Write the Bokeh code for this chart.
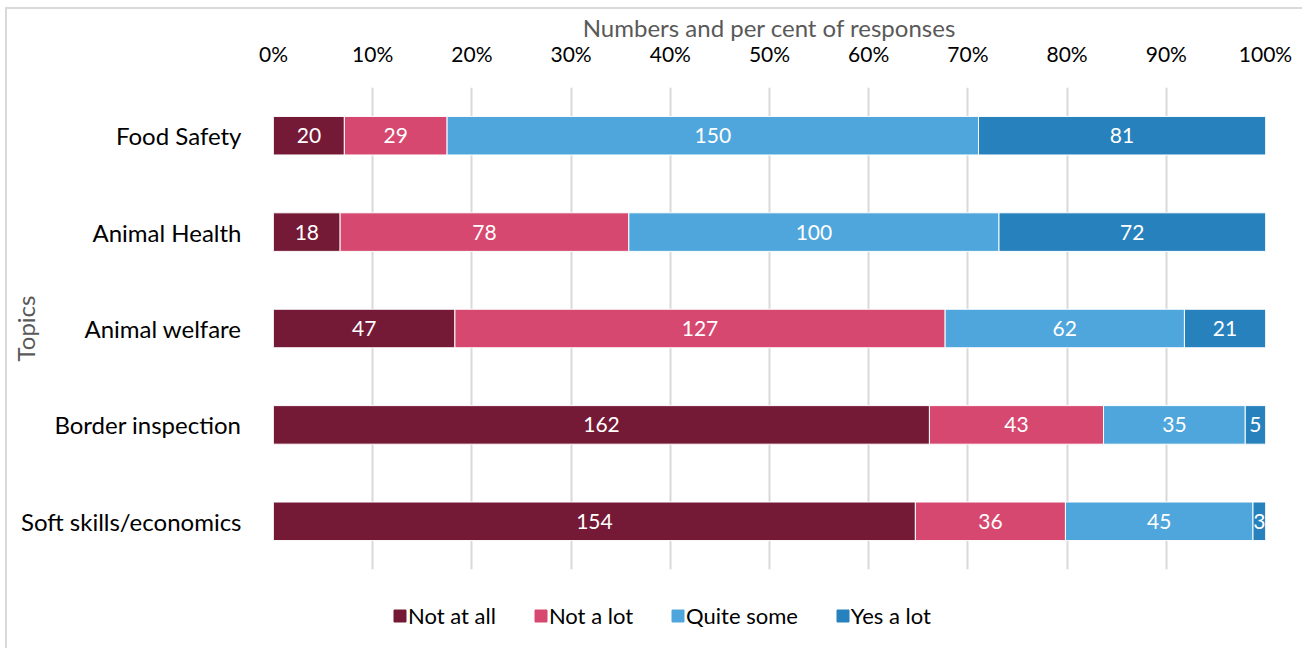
from bokeh.plotting import figure
from bokeh.layouts import column
from bokeh.models import ColumnDataSource, FactorRange, Range1d, FixedTicker, NumeralTickFormatter, Legend
from bokeh.core.properties import value
from bokeh.embed import file_html
from bokeh.resources import INLINE

topics = ["Food Safety", "Animal Health", "Animal welfare", "Border inspection", "Soft skills/economics"]
not_at_all = [20, 18, 47, 162, 154]
not_a_lot = [29, 78, 127, 43, 36]
quite_some = [150, 100, 62, 35, 45]
yes_a_lot = [81, 72, 21, 5, 3]
series_names = ["Not at all", "Not a lot", "Quite some", "Yes a lot"]
colors = ["#751A36", "#D6486F", "#4FA6DC", "#2781BD"]
tick_values = [0.0, 0.1, 0.2, 0.3, 0.4, 0.5, 0.6, 0.7, 0.8, 0.9, 1.0]
x_title = "Numbers and per cent of responses"
y_title = "Topics"

FONT = "Lato"
counts = [not_at_all, not_a_lot, quite_some, yes_a_lot]
totals = [sum(c[i] for c in counts) for i in range(len(topics))]
keys = ["s0", "s1", "s2", "s3"]
data = {"topic": topics}
for k, c in zip(keys, counts):
    data[k] = [v / t for v, t in zip(c, totals)]
source = ColumnDataSource(data)

p = figure(width=1295, height=580,
           y_range=FactorRange(factors=topics[::-1]), x_range=Range1d(0, 1),
           x_axis_location="above", output_backend="svg", toolbar_location=None,
           min_border_left=266, min_border_top=78, min_border_right=37, min_border_bottom=20)

p.hbar_stack(keys, y="topic", height=0.4, color=colors, line_color="white", line_width=1,
             source=source)

lx, ly, lt = [], [], []
for i, topic in enumerate(topics):
    cum = 0.0
    for c in counts:
        frac = c[i] / totals[i]
        lx.append(cum + frac / 2)
        ly.append(topic)
        lt.append(str(c[i]))
        cum += frac
p.text(x=lx, y=ly, text=lt, text_color="white", text_font=value(FONT), text_font_size="21px",
       text_align="center", text_baseline="middle")

xa = p.xaxis[0]
xa.ticker = FixedTicker(ticks=tick_values)
xa.formatter = NumeralTickFormatter(format="0%")
xa.axis_line_color = None
xa.major_tick_line_color = None
xa.minor_tick_line_color = None
xa.major_label_text_font = FONT
xa.major_label_text_font_size = "21px"
xa.major_label_text_color = "#000000"
xa.major_label_standoff = 16
xa.axis_label = x_title
xa.axis_label_text_font = FONT
xa.axis_label_text_font_size = "24px"
xa.axis_label_text_font_style = "normal"
xa.axis_label_text_color = "#595959"
xa.axis_label_standoff = -4

ya = p.yaxis[0]
ya.axis_line_color = None
ya.major_tick_line_color = None
ya.minor_tick_line_color = None
ya.major_label_text_font = FONT
ya.major_label_text_font_size = "24px"
ya.major_label_text_color = "#000000"
ya.major_label_standoff = 26
ya.axis_label = y_title
ya.axis_label_text_font = FONT
ya.axis_label_text_font_size = "24px"
ya.axis_label_text_font_style = "normal"
ya.axis_label_text_color = "#595959"
ya.axis_label_standoff = -22

p.xgrid.grid_line_color = "#d9d9d9"
p.xgrid.grid_line_width = 2
p.ygrid.grid_line_color = None
p.outline_line_color = None

# legend in a separate strip below (swatch renderers sit outside the strip's visible range)
pl = figure(width=1295, height=59, x_axis_type=None, y_axis_type=None,
            x_range=Range1d(0, 1), y_range=Range1d(0, 1),
            output_backend="svg", toolbar_location=None, min_border=0)
pl.outline_line_color = None
pl.xgrid.grid_line_color = None
pl.ygrid.grid_line_color = None
swatch_src = ColumnDataSource(dict(x=[-5], y=[-5]))
leg_rs = [pl.rect(x="x", y="y", width=0.1, height=0.1, color=c, source=swatch_src) for c in colors]

lg = Legend(items=[(n, [r]) for n, r in zip(series_names, leg_rs)])
lg.orientation = "horizontal"
lg.location = (119, 19)
lg.border_line_color = None
lg.background_fill_alpha = 0
lg.glyph_width = 15
lg.glyph_height = 15
lg.label_standoff = 1
lg.spacing = 37
lg.padding = 0
lg.margin = 0
lg.label_text_font = FONT
lg.label_text_font_size = "22px"
lg.label_text_color = "#000000"
pl.add_layout(lg, "center")

layout = column(p, pl, spacing=0,
                styles={"border-top": "2px solid #d9d9d9", "border-left": "2px solid #d9d9d9",
                        "margin-left": "5px", "margin-top": "7px"})

open("out.html", "w").write(file_html(layout, INLINE))
